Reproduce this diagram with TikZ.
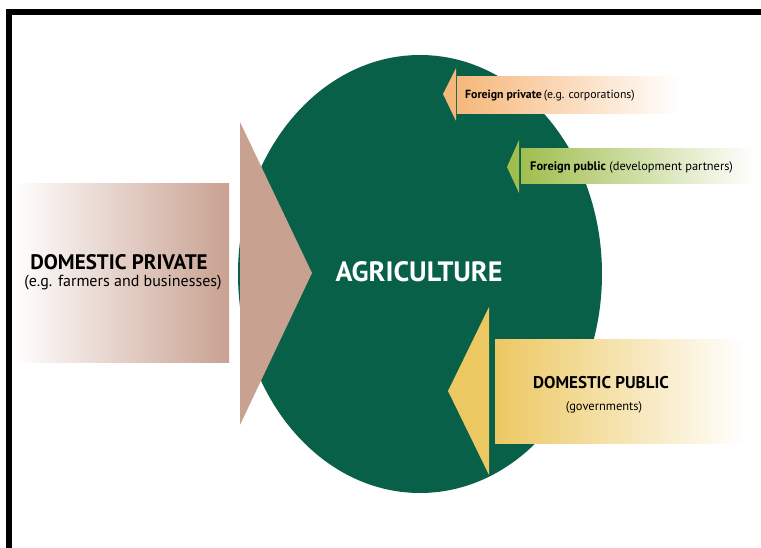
\documentclass[tikz,border=0pt]{standalone}
\usepackage{fontspec}
\setmainfont{PT Sans}
\usepackage{tikz}
\usetikzlibrary{shapes,arrows.meta}

\definecolor{agrigreen}{RGB}{9,96,72}
\definecolor{tanpink}{RGB}{201,161,145}
\definecolor{peach}{RGB}{246,183,122}
\definecolor{leafgreen}{RGB}{160,190,78}
\definecolor{gold}{RGB}{236,200,98}

\tikzset{
  txt/.style={inner sep=0pt,text=black},
}

\begin{document}
\begin{tikzpicture}[x=1pt,y=-1pt]
\useasboundingbox (0,0) rectangle (761,548);
\draw[line width=6pt](9,548)--(9,12.5)--(761,12.5);
% the sector in the middle
\fill[agrigreen](420,274) ellipse [x radius=182pt,y radius=219pt];
\node[txt,text=white,font=\fontsize{28}{32}\selectfont\bfseries](agri) at (419,272){AGRICULTURE};
% domestic private, from the left
\shade[left color=white,right color=tanpink](13,184) rectangle (229,362);
\fill[tanpink](240,122)--(312,273)--(240,425)--cycle;
\node[txt,font=\fontsize{21}{24}\selectfont\bfseries](dprivate) at (119,262){DOMESTIC PRIVATE};
\node[txt,font=\fontsize{16}{18}\selectfont](dprivatesub) at (123,283){(e.g. farmers and businesses)};
% foreign private
\shade[left color=peach,right color=white](457,77) rectangle (680,114);
\fill[peach](456,68)--(443,94)--(456,121)--cycle;
\node[txt,anchor=west,font=\fontsize{11.8}{13}\selectfont](fprivate) at (465,96){\textbf{Foreign private}\,(e.g. corporations)};
% foreign public
\shade[left color=leafgreen,right color=white](521,149) rectangle (755,184);
\fill[leafgreen](519,140)--(507,167)--(519,193)--cycle;
\node[txt,anchor=west,font=\fontsize{12.4}{14}\selectfont](fpublic) at (530,167){\textbf{Foreign public} (development partners)};
% domestic public
\shade[left color=gold,right color=white](495,340) rectangle (745,443);
\fill[gold](489,307)--(448,391)--(489,475)--cycle;
\node[txt,font=\fontsize{17}{20}\selectfont\bfseries](dpublic) at (601,383){DOMESTIC PUBLIC};
\node[txt,font=\fontsize{12.5}{14}\selectfont](dpublicsub) at (604,407){(governments)};
\end{tikzpicture}
\end{document}
